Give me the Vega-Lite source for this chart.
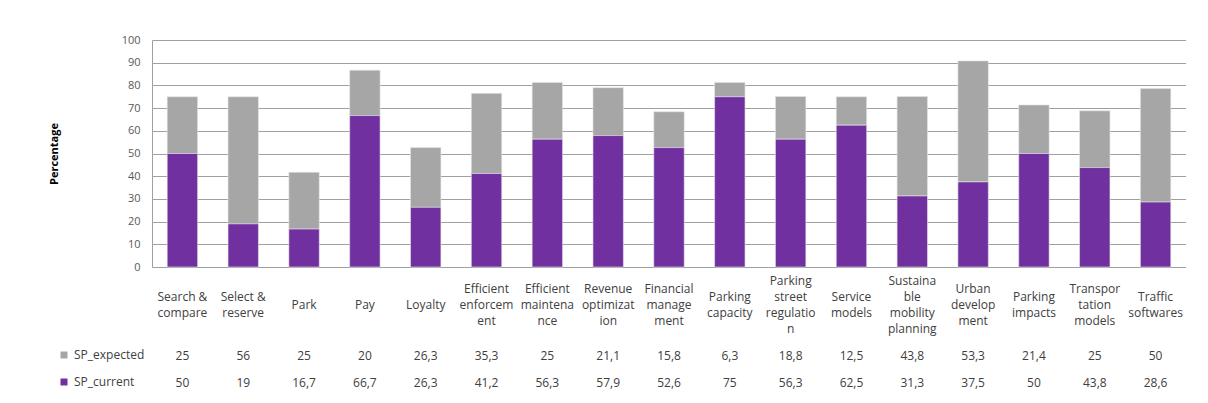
{
  "$schema": "https://vega.github.io/schema/vega-lite/v6.json",
  "padding": {"left": 48, "top": 34, "right": 0, "bottom": 0},
  "background": "white",
  "bounds": "flush",
  "config": {
    "view": {"stroke": null},
    "font": "Open Sans",
    "locale": {"number": {"decimal": ",", "thousands": ".", "grouping": [3], "currency": ["", " €"]}}
  },
  "datasets": {
    "bars": [
      {"category": "Search & compare", "series": "SP_expected", "value": 25},
      {"category": "Search & compare", "series": "SP_current", "value": 50},
      {"category": "Select & reserve", "series": "SP_expected", "value": 56},
      {"category": "Select & reserve", "series": "SP_current", "value": 19},
      {"category": "Park", "series": "SP_expected", "value": 25},
      {"category": "Park", "series": "SP_current", "value": 16.7},
      {"category": "Pay", "series": "SP_expected", "value": 20},
      {"category": "Pay", "series": "SP_current", "value": 66.7},
      {"category": "Loyalty", "series": "SP_expected", "value": 26.3},
      {"category": "Loyalty", "series": "SP_current", "value": 26.3},
      {"category": "Efficient enforcement", "series": "SP_expected", "value": 35.3},
      {"category": "Efficient enforcement", "series": "SP_current", "value": 41.2},
      {"category": "Efficient maintenance", "series": "SP_expected", "value": 25},
      {"category": "Efficient maintenance", "series": "SP_current", "value": 56.3},
      {"category": "Revenue optimization", "series": "SP_expected", "value": 21.1},
      {"category": "Revenue optimization", "series": "SP_current", "value": 57.9},
      {"category": "Financial management", "series": "SP_expected", "value": 15.8},
      {"category": "Financial management", "series": "SP_current", "value": 52.6},
      {"category": "Parking capacity", "series": "SP_expected", "value": 6.3},
      {"category": "Parking capacity", "series": "SP_current", "value": 75},
      {"category": "Parking street regulation", "series": "SP_expected", "value": 18.8},
      {"category": "Parking street regulation", "series": "SP_current", "value": 56.3},
      {"category": "Service models", "series": "SP_expected", "value": 12.5},
      {"category": "Service models", "series": "SP_current", "value": 62.5},
      {"category": "Sustainable mobility planning", "series": "SP_expected", "value": 43.8},
      {"category": "Sustainable mobility planning", "series": "SP_current", "value": 31.3},
      {"category": "Urban development", "series": "SP_expected", "value": 53.3},
      {"category": "Urban development", "series": "SP_current", "value": 37.5},
      {"category": "Parking impacts", "series": "SP_expected", "value": 21.4},
      {"category": "Parking impacts", "series": "SP_current", "value": 50},
      {"category": "Transportation models", "series": "SP_expected", "value": 25},
      {"category": "Transportation models", "series": "SP_current", "value": 43.8},
      {"category": "Traffic softwares", "series": "SP_expected", "value": 50},
      {"category": "Traffic softwares", "series": "SP_current", "value": 28.6}
    ],
    "cats": [
      {"category": "Search & compare", "label": "Search &\ncompare"},
      {"category": "Select & reserve", "label": "Select &\nreserve"},
      {"category": "Park", "label": "Park"},
      {"category": "Pay", "label": "Pay"},
      {"category": "Loyalty", "label": "Loyalty"},
      {"category": "Efficient enforcement", "label": "Efficient\nenforcem\nent"},
      {"category": "Efficient maintenance", "label": "Efficient\nmaintena\nnce"},
      {"category": "Revenue optimization", "label": "Revenue\noptimizat\nion"},
      {"category": "Financial management", "label": "Financial\nmanage\nment"},
      {"category": "Parking capacity", "label": "Parking\ncapacity"},
      {"category": "Parking street regulation", "label": "Parking\nstreet\nregulatio\nn"},
      {"category": "Service models", "label": "Service\nmodels"},
      {"category": "Sustainable mobility planning", "label": "Sustaina\nble\nmobility\nplanning"},
      {"category": "Urban development", "label": "Urban\ndevelop\nment"},
      {"category": "Parking impacts", "label": "Parking\nimpacts"},
      {"category": "Transportation models", "label": "Transpor\ntation\nmodels"},
      {"category": "Traffic softwares", "label": "Traffic\nsoftwares"}
    ]
  },
  "spacing": 0,
  "resolve": {"scale": {"color": "independent", "x": "independent", "y": "independent"}, "legend": {"color": "independent"}},
  "vconcat": [
    {
      "width": 1034,
      "height": 227,
      "data": {"name": "bars"},
      "mark": {"type": "bar", "stroke": "#e6e6e6", "strokeWidth": 0.6},
      "encoding": {
        "x": {"field": "category", "type": "nominal", "sort": null,
              "scale": {"paddingInner": 0.5, "paddingOuter": 0.25}, "axis": null},
        "y": {"field": "value", "type": "quantitative", "stack": "zero",
              "scale": {"domain": [0, 100], "nice": false},
              "axis": {"values": [0, 10, 20, 30, 40, 50, 60, 70, 80, 90, 100],
                       "title": "Percentage", "titleFontWeight": "bold", "titleFontSize": 11,
                       "titleColor": "#000000", "titlePadding": 62,
                       "labelFontSize": 11, "labelColor": "#595959", "labelPadding": 12,
                       "ticks": false, "domainColor": "#a0a0a0",
                       "gridColor": "#a0a0a0", "gridWidth": 1}},
        "color": {"field": "series", "type": "nominal",
                  "scale": {"domain": ["SP_expected", "SP_current"], "range": ["#a6a6a6", "#7030a0"]},
                  "legend": null},
        "order": {"field": "series", "type": "nominal", "sort": "ascending"}
      }
    },
    {
      "width": 1034,
      "height": 75,
      "data": {"name": "cats"},
      "encoding": {
        "x": {"field": "category", "type": "nominal",
              "scale": {"domain": ["Search & compare", "Select & reserve", "Park", "Pay", "Loyalty", "Efficient enforcement", "Efficient maintenance", "Revenue optimization", "Financial management", "Parking capacity", "Parking street regulation", "Service models", "Sustainable mobility planning", "Urban development", "Parking impacts", "Transportation models", "Traffic softwares"],
                        "paddingInner": 0.5, "paddingOuter": 0.25}, "axis": null},
        "text": {"field": "label", "type": "nominal"}
      },
      "layer": [
        {
          "transform": [{"filter": "length(split(datum.label, '\\n')) == 1"}],
          "mark": {"type": "text", "lineBreak": "\n", "lineHeight": 16, "fontSize": 12,
                   "color": "#404040", "baseline": "middle", "align": "center", "dy": 0}
        },
        {
          "transform": [{"filter": "length(split(datum.label, '\\n')) == 2"}],
          "mark": {"type": "text", "lineBreak": "\n", "lineHeight": 16, "fontSize": 12,
                   "color": "#404040", "baseline": "middle", "align": "center", "dy": -8}
        },
        {
          "transform": [{"filter": "length(split(datum.label, '\\n')) == 3"}],
          "mark": {"type": "text", "lineBreak": "\n", "lineHeight": 16, "fontSize": 12,
                   "color": "#404040", "baseline": "middle", "align": "center", "dy": -16}
        },
        {
          "transform": [{"filter": "length(split(datum.label, '\\n')) == 4"}],
          "mark": {"type": "text", "lineBreak": "\n", "lineHeight": 16, "fontSize": 12,
                   "color": "#404040", "baseline": "middle", "align": "center", "dy": -24}
        }
      ]
    },
    {
      "width": 1034,
      "height": 54,
      "data": {"name": "bars"},
      "layer": [
        {
          "mark": {"type": "point", "shape": "square", "filled": true, "opacity": 0},
          "encoding": {
            "x": {"field": "category", "type": "nominal", "sort": null,
                  "scale": {"paddingInner": 0.5, "paddingOuter": 0.25}, "axis": null},
            "y": {"field": "series", "type": "nominal",
                  "scale": {"domain": ["SP_expected", "SP_current"]}, "axis": null},
            "color": {"field": "series", "type": "nominal",
                      "scale": {"domain": ["SP_expected", "SP_current"], "range": ["#a6a6a6", "#7030a0"]},
                      "legend": {"orient": "left", "title": null, "symbolType": "square",
                                 "symbolSize": 49, "symbolOpacity": 1, "symbolStrokeWidth": 0,
                                 "labelFontSize": 12, "labelColor": "#404040", "labelOffset": 4,
                                 "rowPadding": 15, "offset": 0, "padding": 7}}
          }
        },
        {
          "mark": {"type": "text", "fontSize": 12, "color": "#404040", "baseline": "middle", "align": "center"},
          "encoding": {
            "x": {"field": "category", "type": "nominal", "sort": null,
                  "scale": {"paddingInner": 0.5, "paddingOuter": 0.25}, "axis": null},
            "y": {"field": "series", "type": "nominal",
                  "scale": {"domain": ["SP_expected", "SP_current"]}, "axis": null},
            "text": {"field": "value", "type": "quantitative", "format": "~g"}
          }
        }
      ]
    }
  ]
}
